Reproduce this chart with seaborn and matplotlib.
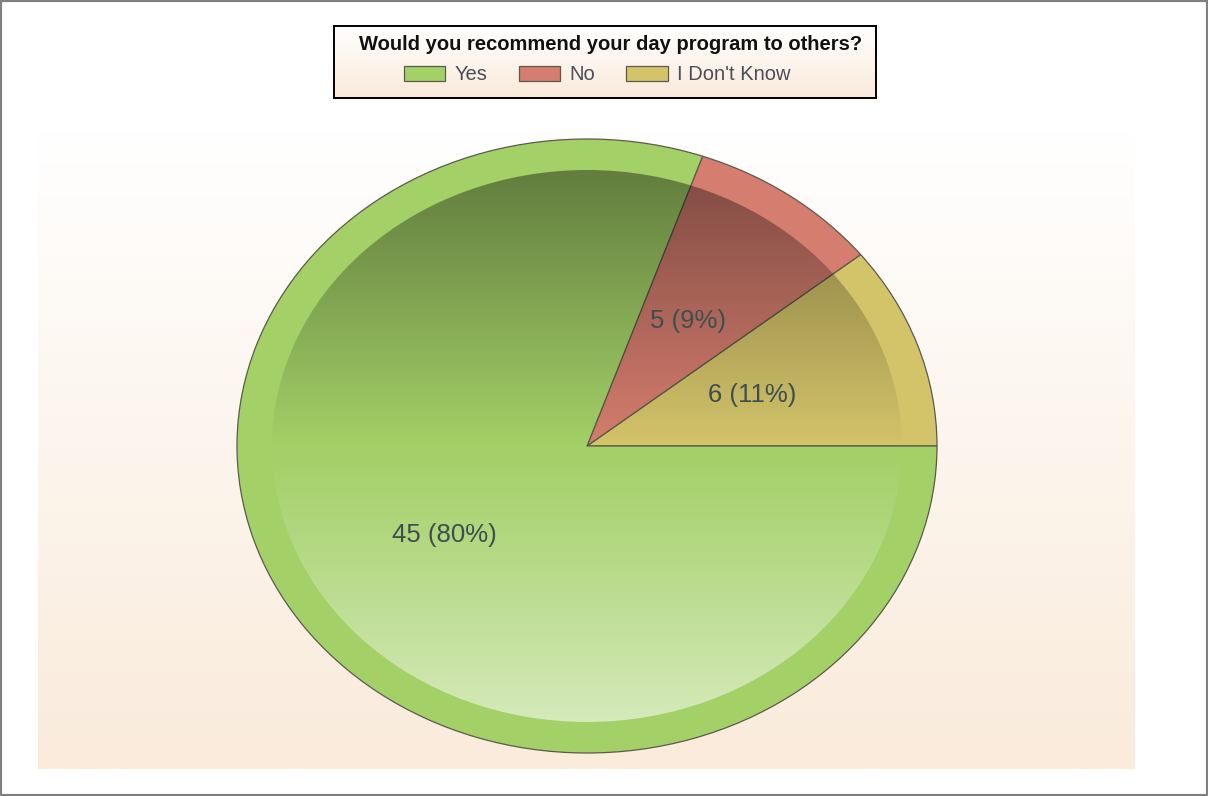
import numpy as np
import matplotlib
matplotlib.use("Agg")
import matplotlib.pyplot as plt
from matplotlib.patches import Ellipse, Rectangle
import seaborn as sns

categories = ["Yes", "No", "I Don't Know"]
counts = [45, 5, 6]
colors = ["#A3D067", "#D57D6E", "#D3C46A"]
title = "Would you recommend your day program to others?"

sns.set_theme(style="white")
plt.rcParams["font.family"] = ["Liberation Sans", "DejaVu Sans"]

W, H = 1208, 796
fig = plt.figure(figsize=(W / 100, H / 100), dpi=100)
fig.patch.set_facecolor("white")

def fx(px):
    return px / W

def fy(py):
    return 1 - py / H

def vgrad(top_hex, bot_hex, n=256):
    g = np.linspace(0, 1, n)[:, None, None]
    t = np.array(matplotlib.colors.to_rgb(top_hex))[None, None, :]
    b = np.array(matplotlib.colors.to_rgb(bot_hex))[None, None, :]
    return np.repeat(t * (1 - g) + b * g, 2, axis=1)

# plot-area background gradient
bg = fig.add_axes([fx(38), fy(769), fx(1135 - 38), (769 - 130) / H])
bg.imshow(vgrad("#FFFFFF", "#FAEBDB"), aspect="auto", extent=[0, 1, 0, 1], origin="upper")
bg.set_axis_off()

# pie axes (elliptical pie)
ax = fig.add_axes([fx(237), fy(753), fx(700), 614 / H])
ax.set_facecolor("none")
order = [2, 1, 0]  # counter-clockwise from 0 deg: I Don't Know, No, Yes
total = sum(counts)

def fmt(p):
    return f"{int(round(p * total / 100))} ({p:.0f}%)"

wedges, texts, autotexts = ax.pie(
    [counts[i] for i in order],
    colors=[colors[i] for i in order],
    startangle=0,
    counterclock=True,
    autopct=fmt,
    pctdistance=0.5,
    wedgeprops=dict(edgecolor="#5b5b4b", linewidth=0.9),
    textprops=dict(fontsize=18.5, color="#3e4e50"),
    frame=False,
)
ax.set_aspect("auto")
ax.set_axis_off()
for t in autotexts:
    t.set_zorder(10)

# inner shading overlay
n = 400
yy = np.linspace(1, -1, n)  # top to bottom
rgba = np.zeros((n, 2, 4))
ry_in = 276 / 307
for k, yv in enumerate(yy):
    if yv >= 0:
        rgba[k, :, :3] = 0.0
        rgba[k, :, 3] = 0.40 * min(yv / ry_in, 1.0)
    else:
        rgba[k, :, :3] = 1.0
        rgba[k, :, 3] = 0.55 * min(-yv / ry_in, 1.0) ** 1.1
im = ax.imshow(rgba, extent=[-1, 1, -1, 1], aspect="auto", zorder=5, origin="upper")
clip = Ellipse((0, 0), 2 * 315 / 350, 2 * ry_in, transform=ax.transData)
im.set_clip_path(clip)
ax.set_xlim(-1, 1)
ax.set_ylim(-1, 1)

# legend box background
lax = fig.add_axes([fx(334), fy(98), fx(876 - 334), (98 - 26) / H])
lax.imshow(vgrad("#FFFFFF", "#FAEADA"), aspect="auto", extent=[0, 1, 0, 1], origin="upper")
lax.set_xticks([])
lax.set_yticks([])
for s in lax.spines.values():
    s.set_visible(True)
    s.set_edgecolor("black")
    s.set_linewidth(1.4)

# legend title
fig.text(fx(611), fy(45), title, ha="center", va="center",
         fontsize=14.5, fontweight="bold", color="#111111")

# legend entries
leg_handles = [wedges[order.index(i)] for i in range(3)]
leg = fig.legend(
    leg_handles, categories, ncol=3,
    loc="center", bbox_to_anchor=(fx(597), fy(75)),
    frameon=False, fontsize=14.5, handlelength=2.05, handleheight=0.7,
    handletextpad=0.45, columnspacing=1.57, borderpad=0.0,
)
for t in leg.get_texts():
    t.set_color("#4c4c5a")

# figure border
fig.patches.append(Rectangle((0, 0), 1, 1, transform=fig.transFigure,
                             fill=False, edgecolor="#808080", linewidth=3))

fig.savefig("out.png", dpi=100)
